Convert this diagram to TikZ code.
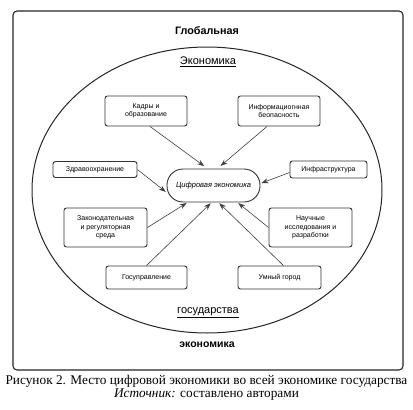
\documentclass[tikz,border=0pt]{standalone}
\usepackage{fontspec}
\setmainfont{Liberation Serif}
\setsansfont{Liberation Sans}
\usetikzlibrary{arrows.meta, positioning, calc}

\begin{document}
\begin{tikzpicture}[
    x=1pt, y=-1pt,
    block/.style={rectangle, draw=black!80, line width=0.9pt, fill=white, rounded corners=2.5pt, align=center, inner sep=1pt, font=\sffamily\fontsize{7}{8.6}\selectfont},
    line/.style={draw=black!75, -{Stealth[length=7pt, width=5pt]}, line width=0.6pt, shorten >=1pt},
    label/.style={font=\sffamily\fontsize{11}{12}\selectfont, inner sep=0pt}
]

    \fill [white] (0,0) rectangle (413,410);
    \useasboundingbox (0,0) rectangle (413,410);

    % frames
    \draw [black!85, line width=1.1pt, rounded corners=4pt] (13,11) rectangle (403,370);
    \draw [black!85, line width=1pt] (207,190) ellipse [x radius=175pt, y radius=143pt];

    \node [label, font=\sffamily\bfseries\fontsize{10.8}{12}\selectfont] (glob) at (207,31) {Глобальная};
    \node [label] (ekon) at (208,62) {\underline{Экономика}};
    \node [label] (gos) at (208,313) {\underline{государства}};
    \node [label, font=\sffamily\bfseries\fontsize{10.5}{12}\selectfont] (ekonb) at (207,345) {экономика};

    % blocks
    \node [block, minimum width=93pt, minimum height=33pt, rounded corners=16pt, font=\sffamily\itshape\fontsize{7.5}{9}\selectfont] (cifr) at (213.5,185.5) {Цифровая экономика};
    \node [block, minimum width=82pt, minimum height=30pt] (kadry) at (146,111) {Кадры и\\образование};
    \node [block, minimum width=82pt, minimum height=30pt] (infobez) at (279,111) {Информациогнная\\беопасность};
    \node [block, minimum width=84pt, minimum height=16pt] (zdrav) at (95,169.5) {Здравоохранение};
    \node [block, minimum width=77pt, minimum height=17pt] (infra) at (328.5,169.5) {Инфраструктура};
    \node [block, minimum width=83pt, minimum height=39pt] (zakon) at (105.5,227.5) {Законодательная\\и регуляторная\\среда};
    \node [block, minimum width=83pt, minimum height=39pt] (nauka) at (310.5,227.5) {Научные\\исследования и\\разработки};
    \node [block, minimum width=81pt, minimum height=23pt] (gosupr) at (146.5,277.5) {Госуправление};
    \node [block, minimum width=83pt, minimum height=23pt] (gorod) at (279.5,277.5) {Умный город};

    % arrows
    \draw [line, shorten >=4pt] ([xshift=4pt]kadry.south) -- ([xshift=-6pt]cifr.north);
    \draw [line, shorten >=4pt] ([xshift=-12pt]infobez.south) -- ([xshift=4pt]cifr.north);
    \draw [line] (zdrav.east) -- ([yshift=-7pt]cifr.west);
    \draw [line] ([yshift=-3pt]infra.west) -- ([yshift=2pt]cifr.east);
    \draw [line] (zakon.east) -- ([xshift=-26pt]cifr.south);
    \draw [line] (nauka.west) -- ([xshift=24pt]cifr.south);
    \draw [line] (gosupr.north) -- ([xshift=-2pt]cifr.south);
    \draw [line] ([xshift=4pt]gorod.north) -- ([xshift=5pt]cifr.south);

    % caption
    \node [inner sep=0pt, font=\fontsize{13.3}{15}\selectfont] (cap) at (206.5,381) {Рисунок 2. Место цифровой экономики во всей экономике государства};
    \node [inner sep=0pt, font=\fontsize{13.3}{15}\selectfont, below=1.5pt of cap] (src) {\textit{Источник:} составлено авторами};

\end{tikzpicture}
\end{document}
